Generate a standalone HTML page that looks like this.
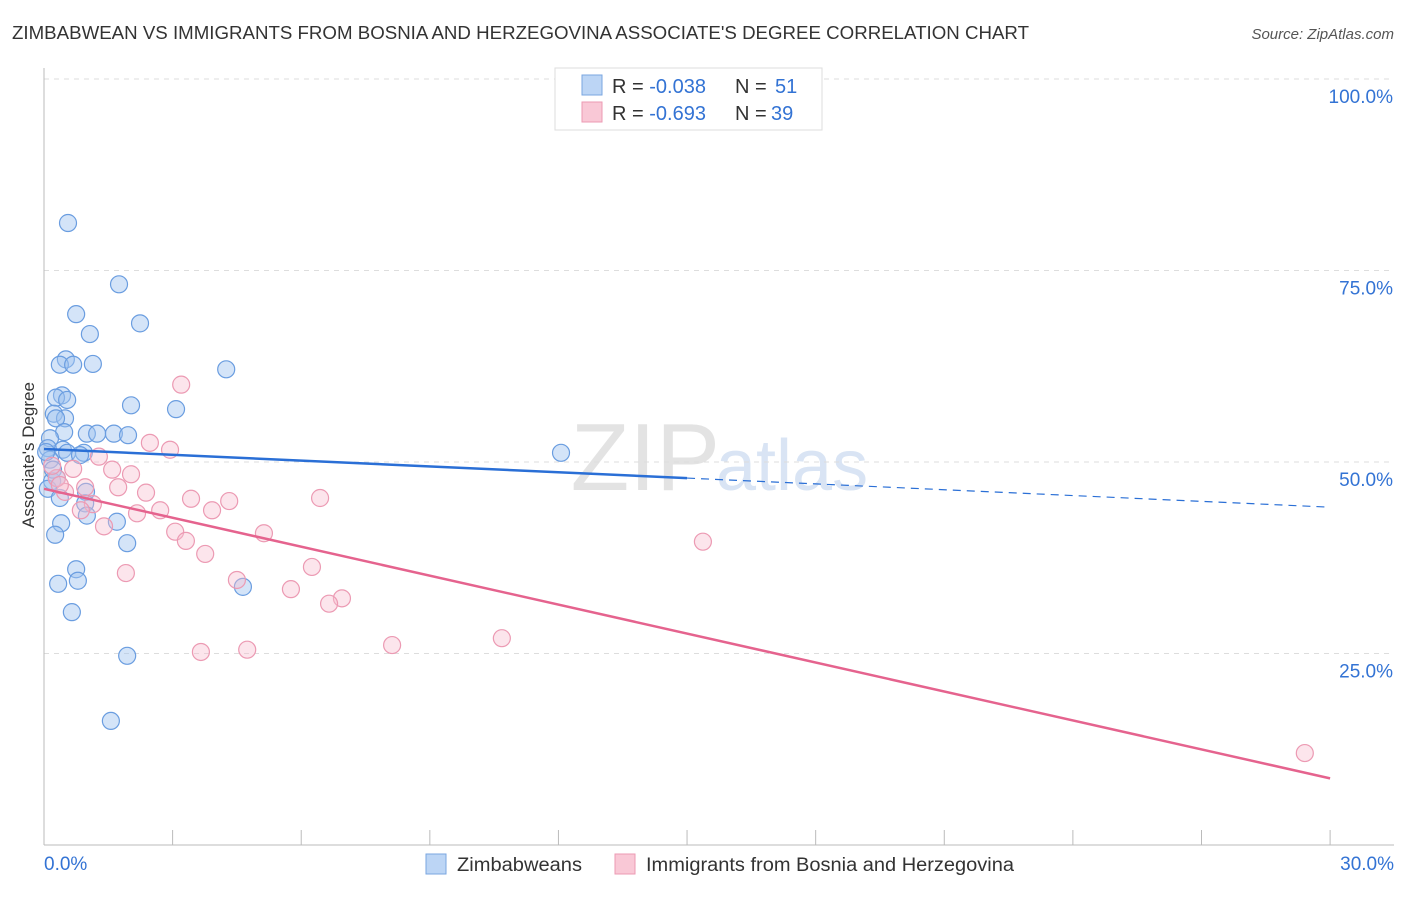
<!DOCTYPE html>
<html><head><meta charset="utf-8"><style>
body{margin:0;background:#fff;font-family:"Liberation Sans",sans-serif}
svg text{font-family:"Liberation Sans",sans-serif}
</style></head><body>
<svg id="c" width="1406" height="892">
<text x="12" y="39" font-size="18" fill="#333" textLength="1017" lengthAdjust="spacingAndGlyphs">ZIMBABWEAN VS IMMIGRANTS FROM BOSNIA AND HERZEGOVINA ASSOCIATE'S DEGREE CORRELATION CHART</text>
<text x="1394" y="39" font-size="15" fill="#555" font-style="italic" text-anchor="end">Source: ZipAtlas.com</text>
<text x="720" y="490" font-size="96" fill="#ddd" font-family="Liberation Serif" text-anchor="end" opacity="0.8">ZIP</text>
<text x="716" y="490" font-size="72" fill="#c9daf0" opacity="0.7">atlas</text>
<g id="grid"></g><g id="axes"></g><g id="pts"></g><g id="trend"></g>
<text transform="translate(34,455) rotate(-90)" font-size="17" fill="#333" text-anchor="middle">Associate's Degree</text>
<g>
<rect x="555" y="68" width="267" height="62" fill="#fff" stroke="#ddd"/>
<rect x="582" y="75" width="20" height="20" fill="#bcd5f5" stroke="#7aa6e0"/>
<rect x="582" y="102" width="20" height="20" fill="#f9c8d6" stroke="#ec9ab3"/>
<text x="612" y="93" font-size="20" fill="#333">R = <tspan fill="#3373d4">-0.038</tspan><tspan x="735">N = </tspan><tspan fill="#3373d4" x="775">51</tspan></text>
<text x="612" y="120" font-size="20" fill="#333">R = <tspan fill="#3373d4">-0.693</tspan><tspan x="735">N = </tspan><tspan fill="#3373d4" x="771">39</tspan></text>
</g>
<g>
<rect x="426" y="854" width="20" height="20" fill="#bcd5f5" stroke="#7aa6e0"/>
<text x="457" y="871" font-size="19" fill="#333" textLength="125" lengthAdjust="spacingAndGlyphs">Zimbabweans</text>
<rect x="615" y="854" width="20" height="20" fill="#f9c8d6" stroke="#ec9ab3"/>
<text x="646" y="871" font-size="19" fill="#333" textLength="368" lengthAdjust="spacingAndGlyphs">Immigrants from Bosnia and Herzegovina</text>
</g>
</svg>
<script>
const blueX=[0.56,1.75,0.75,2.24,1.07,0.51,0.37,0.68,1.14,4.25,0.42,0.28,0.54,2.03,3.08,0.23,0.49,0.28,0.47,0.14,1.0,1.24,1.63,1.96,0.09,0.44,0.93,0.54,12.06,0.19,0.09,0.98,0.37,0.96,1.0,1.70,0.40,0.26,1.94,0.75,0.79,0.33,0.65,4.64,1.94,1.56,0.14,0.21,0.30,0.05,0.84];
const blueY=[81.2,73.2,69.3,68.1,66.7,63.4,62.7,62.7,62.8,62.1,58.7,58.4,58.1,57.4,56.9,56.3,55.7,55.7,53.9,53.1,53.7,53.7,53.7,53.5,51.8,51.6,51.2,51.2,51.2,47.5,46.5,46.1,45.3,44.6,43.0,42.2,42.0,40.5,39.4,36.0,34.5,34.1,30.4,33.7,24.7,16.2,50.3,49.0,47.9,51.3,50.9];
const pinkX=[3.20,2.47,2.94,1.28,0.68,1.59,2.03,1.73,2.38,3.43,4.32,6.44,0.96,1.14,0.49,0.30,0.19,0.86,2.17,2.71,3.92,1.40,3.06,3.31,5.13,3.76,15.37,1.91,4.50,6.25,5.76,6.95,6.65,3.66,4.74,8.12,10.68,29.41,0.37];
const pinkY=[60.1,52.5,51.6,50.7,49.1,49.0,48.4,46.7,46.0,45.2,44.9,45.3,46.7,44.5,46.1,47.9,49.5,43.7,43.3,43.7,43.7,41.6,40.9,39.7,40.7,38.0,39.6,35.5,34.6,36.3,33.4,32.2,31.5,25.2,25.5,26.1,27.0,12.0,47.0];
const yTicks=[25,50,75,100];
const yTickLabels=["25.0%","50.0%","75.0%","100.0%"];
const xTicks=[0,3,6,9,12,15,18,21,24,27,30];
const blueTrend=[51.7,44.1];
const pinkTrend=[46.5,8.7];
const NS="http://www.w3.org/2000/svg";
const sx=v=>44+v*42.87, sy=v=>845-v*7.66;
function mk(p,t,a){const e=document.createElementNS(NS,t);for(const k in a)e.setAttribute(k,a[k]);document.getElementById(p).appendChild(e);return e;}
yTicks.forEach((t,i)=>{
 const l=mk('grid','line',{x1:44,x2:1394,y1:sy(t),y2:sy(t),stroke:'#ddd','stroke-dasharray':'5,5'});
 
 
 const tx=mk('grid','text',{x:1393,y:sy(t)+24,'font-size':19,fill:'#3373d4','text-anchor':'end'});
 tx.textContent=yTickLabels[i];
 
 
});
const ax=mk('axes','line',{x1:44,x2:44,y1:68,y2:845,stroke:'#bbb'});


const bx=mk('axes','line',{x1:44,x2:1394,y1:845,y2:845,stroke:'#bbb'});


xTicks.forEach(t=>{
 const l=mk('axes','line',{x1:sx(t),x2:sx(t),y1:830,y2:845,stroke:'#bbb'});
 
 
});
const x0=mk('axes','text',{x:44,y:870,'font-size':19,fill:'#3373d4'});x0.textContent='0.0%';


const x1=mk('axes','text',{x:1394,y:870,'font-size':19,fill:'#3373d4','text-anchor':'end'});x1.textContent='30.0%';


blueX.forEach((v,i)=>{
 const c=mk('pts','circle',{cx:sx(v),cy:sy(blueY[i]),r:8.5,fill:'rgba(160,195,240,0.45)',stroke:'#6a9de0','stroke-width':1.2});
 
 
});
pinkX.forEach((v,i)=>{
 const c=mk('pts','circle',{cx:sx(v),cy:sy(pinkY[i]),r:8.5,fill:'rgba(248,190,208,0.4)',stroke:'#ec9ab3','stroke-width':1.2});
 
 
});
const bm=blueTrend[0]+(blueTrend[1]-blueTrend[0])*15/30;
const t1=mk('trend','line',{x1:sx(0),y1:sy(blueTrend[0]),x2:sx(15),y2:sy(bm),stroke:'#2a6fd6','stroke-width':2.5});


const t2=mk('trend','line',{x1:sx(15),y1:sy(bm),x2:sx(30),y2:sy(blueTrend[1]),stroke:'#2a6fd6','stroke-width':1.2,'stroke-dasharray':'8,6'});


const t3=mk('trend','line',{x1:sx(0),y1:sy(pinkTrend[0]),x2:sx(30),y2:sy(pinkTrend[1]),stroke:'#e5638e','stroke-width':2.5});


</script>
</body></html>
